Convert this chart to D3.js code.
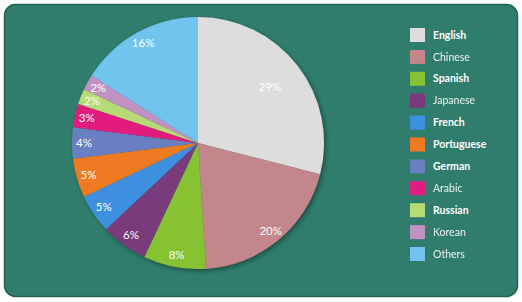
<!DOCTYPE html>
<html>
<head>
    <meta charset="UTF-8">
    <title>Languages</title>
    <style>
        body {
            margin: 0;
            background-color: white;
        }
        svg {
            display: block;
            font-family: Lato, "Open Sans", sans-serif;
        }
    </style>
</head>
<body>
    <svg></svg>
    <script src="https://d3js.org/d3.v7.min.js"></script>
    <script>
        let languages = ["English", "Chinese", "Spanish", "Japanese", "French", "Portuguese",
            "German", "Arabic", "Russian", "Korean", "Others"]
        let shares = [29, 20, 8, 6, 5, 5, 4, 3, 2, 2, 16]
        let sliceColors = ["#dddddd", "#c3868b", "#86c232", "#7a3a7c", "#3d8fe0", "#ee7a22",
            "#6a7fc0", "#e11c7e", "#b6db74", "#c291c4", "#70c4ee"]
        let boldNames = ["English", "Spanish", "French", "Portuguese", "German", "Russian"]

        let width = 522, height = 302;
        let cx = 198, cy = 143, radius = 126;

        let data = languages.map((name, i) => ({ name: name, value: shares[i] }))
        let color = d3.scaleOrdinal(languages, sliceColors)

        let svg = d3.select("svg")
            .attr("width", width)
            .attr("height", height)

        let defs = svg.append("defs")
        let shadow = defs.append("filter")
            .attr("id", "shadow")
            .attr("x", "-20%").attr("y", "-20%")
            .attr("width", "140%").attr("height", "140%")
        shadow.append("feDropShadow")
            .attr("dx", 2).attr("dy", 2)
            .attr("stdDeviation", 2)
            .attr("flood-color", "#0b2e27")
            .attr("flood-opacity", 0.6)

        // panel
        svg.append("rect")
            .attr("x", 4.5).attr("y", 4.5)
            .attr("width", 513).attr("height", 292)
            .attr("rx", 11)
            .attr("fill", "#307d6d")
            .attr("stroke", "#24604f")
            .attr("stroke-width", 1.5)

        let pie = d3.pie()
            .sort(null)
            .value(d => d.value)

        let arc = d3.arc()
            .innerRadius(0)
            .outerRadius(radius)

        let arcs = pie(data)

        let g = svg.append("g")
            .attr("transform", "translate(" + cx + "," + cy + ")")

        g.append("g")
            .attr("filter", "url(#shadow)")
            .selectAll("path")
            .data(arcs)
            .enter()
            .append("path")
            .attr("d", arc)
            .attr("fill", d => color(d.data.name))

        // labels
        g.append("g")
            .selectAll("text")
            .data(arcs)
            .enter()
            .append("text")
            .attr("transform", d => {
                let r = d.data.value > 25 ? 91 : 114
                let a = (d.startAngle + d.endAngle) / 2
                return "translate(" + (Math.sin(a) * r) + "," + (-Math.cos(a) * r) + ")"
            })
            .attr("text-anchor", "middle")
            .attr("dy", "0.35em")
            .attr("fill", "white")
            .style("font-size", "11.5px")
            .text(d => d.data.value + "%")

        // legend
        let legend = svg.append("g")
            .attr("transform", "translate(410, 28)")
            .selectAll("g")
            .data(languages)
            .enter()
            .append("g")
            .attr("transform", (d, i) => "translate(0," + (i * 21.9) + ")")

        legend.append("rect")
            .attr("width", 15)
            .attr("height", 14)
            .attr("fill", d => color(d))

        legend.append("text")
            .attr("x", 23)
            .attr("y", 7)
            .attr("dy", "0.35em")
            .attr("fill", "white")
            .style("font-size", "10.5px")
            .style("font-weight", d => boldNames.includes(d) ? "bold" : "normal")
            .style("opacity", d => boldNames.includes(d) ? 1 : 0.9)
            .text(d => d)
    </script>
</body>
</html>
